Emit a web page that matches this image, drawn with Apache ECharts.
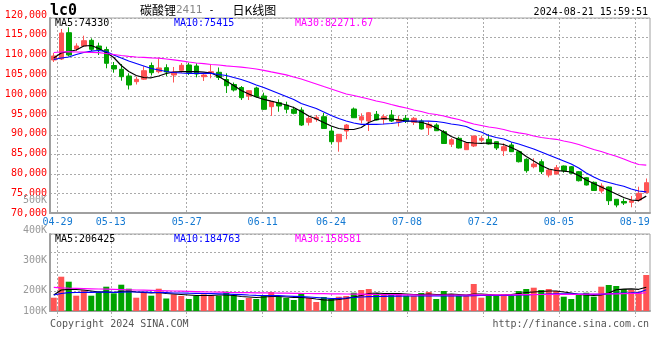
<!DOCTYPE html>
<html><head><meta charset="utf-8">
<script src="https://cdn.jsdelivr.net/npm/echarts@6/dist/echarts.min.js"></script>
<style>html,body{margin:0;padding:0;background:#fff}#c{width:660px;height:360px}</style>
</head><body><div id="c"></div>
<script>
const dates = ['04-26','04-29','04-30','05-06','05-07','05-08','05-09','05-10','05-13','05-14','05-15','05-16','05-17','05-20','05-21','05-22','05-23','05-24','05-27','05-28','05-29','05-30','05-31','06-03','06-04','06-05','06-06','06-07','06-11','06-12','06-13','06-14','06-17','06-18','06-19','06-20','06-21','06-24','06-25','06-26','06-27','06-28','07-01','07-02','07-03','07-04','07-05','07-08','07-09','07-10','07-11','07-12','07-15','07-16','07-17','07-18','07-19','07-22','07-23','07-24','07-25','07-26','07-29','07-30','07-31','08-01','08-02','08-05','08-06','08-07','08-08','08-09','08-12','08-13','08-14','08-15','08-16','08-19','08-20','08-21'];
const tickDates = ['04-29','05-13','05-27','06-11','06-24','07-08','07-22','08-05','08-19'];

const opens  = [109230,109490,116230,112050,112820,114280,112820,111920,107820,106850,105130,103670,104310,107820,106230,107260,105380,106590,107950,107690,104950,105820,106080,104230,102950,102180,100000,102050,100000,97260,98280,97690,96590,96410,93260,94020,94690,91020,88280,91020,96670,93850,93590,95310,94020,95130,93410,94280,93260,93590,91870,92560,90850,87640,89150,86230,87180,88670,88900,88280,85970,87440,85720,83770,81870,83150,79740,80000,82050,81870,80590,79050,77870,75640,76670,73510,72950,72740,73330,75200];
const closes = [110260,116150,110510,112820,114180,111970,111920,108380,106920,104950,102820,104280,106490,105970,107180,106150,106150,107870,105970,105640,105380,106230,104740,102640,101540,99560,101360,99820,96590,98540,97440,96590,95560,92560,94280,94540,91670,88280,90180,92560,94430,94690,95720,93850,94690,93590,94020,93460,94280,91540,92740,91100,87820,88790,86670,88000,89740,89150,87690,86670,87000,85720,83150,80850,82560,80590,81030,81610,80850,80180,78280,77180,75770,76920,73150,72050,72560,73150,75050,77770];
const lows   = [108720,109230,110130,111540,112560,111540,110510,107100,105970,103920,101670,102950,104100,105260,105820,105130,103460,105970,105380,104790,103850,104540,104100,100770,101150,98970,98970,99610,96410,94870,95970,95560,95310,92310,92430,93410,91540,87560,85720,88900,94360,92950,91020,93720,92740,93330,92180,93080,92560,91410,90000,91020,87690,86920,86540,86150,86920,88130,87560,86150,84610,85640,82950,80330,81460,80000,79150,79870,80330,80000,78080,77050,75640,75050,72050,71460,72050,71460,72900,75130];
const highs  = [111020,117180,117610,113510,115460,114790,113670,112640,108720,108200,105820,104950,107610,108590,109660,108130,107440,108460,108540,108380,105820,107950,107310,105820,103460,102560,101500,102380,100850,98600,99150,98540,97260,97100,94870,95130,95640,92130,90250,92820,97050,95560,95900,96150,95310,96410,94870,95130,94610,94020,93410,93000,91280,89230,89560,88130,89820,89820,90200,88330,87870,88130,85770,84030,84030,83770,81460,82310,82180,82050,80770,79230,78080,77610,76790,73590,73720,74360,76740,78850];

const ma5  = [109740,111020,111410,111790,112820,112950,112180,111150,109870,107820,106280,105260,104740,104670,105130,105770,106150,106230,106230,106230,106100,105900,105000,103850,102690,101410,100510,99740,99150,98670,98200,97690,97050,96020,94870,94100,93200,92310,91670,91410,91410,91920,93200,93970,94230,94100,93900,93590,93460,93260,92690,91790,90770,89610,88850,88130,87950,87870,87950,87820,87560,86790,85900,84490,83330,82180,81280,80900,80720,80510,79620,78460,77560,76670,75770,74870,73970,73330,73180,74330];
const ma10 = [109360,109740,110000,110640,111150,111490,111670,111410,110510,109740,108970,108330,107690,107050,106670,106280,106020,105900,105820,105820,105820,105820,105510,105260,104740,104230,103590,102820,102180,101410,100640,99870,99100,98080,97430,96790,95900,95000,94230,93590,93080,92740,92740,92740,92820,92950,93200,93590,93590,93590,93540,93460,93200,92820,92560,92180,91280,90770,89870,89360,88970,88200,87690,87050,86410,85640,84870,84100,83330,82560,81540,80260,79230,78330,77820,77310,76850,76150,75640,75415];
const ma30 = [111150,111280,111360,111280,111230,111150,111100,110900,110640,110380,110180,110000,109920,109790,109690,109490,109280,109020,108720,108460,108280,108080,107950,107740,107560,107380,107180,106920,106590,106200,105820,105430,104870,104360,103720,103080,102430,101790,101150,100510,100130,99670,99230,98720,98330,97820,97360,96920,96410,96020,95510,95260,94870,94410,93970,93380,92820,92440,92050,91790,91410,90900,90560,90260,89740,89360,89100,88900,88460,88080,87560,86920,86280,85770,85130,84540,83850,83080,82440,82271.67];

const volumes = [115700,298400,254900,133100,181000,133100,167900,211400,154000,228800,194000,115700,167900,133100,194000,108800,145300,130500,104400,130500,145300,133100,133100,167900,139200,95700,113100,104400,139200,165300,121800,113100,95700,147900,113100,78300,121800,104400,124400,130500,159200,182700,191400,154000,147900,154000,156600,133100,133100,156600,165300,104400,174000,147900,133100,133100,234900,115700,147900,139200,145300,130500,174000,191400,202700,182700,191400,174000,124400,104400,145300,159200,124400,211400,226200,217500,191400,182700,167900,313200];
const volMa5  = [139200,182700,188800,187100,182700,174000,165300,165300,161000,169700,174000,165300,161000,156600,161000,152300,147900,143600,139200,134900,134900,134900,139200,139200,134900,126200,121800,117500,121800,126200,126200,121800,117500,117500,113100,104400,97000,95000,100000,108800,121800,134900,152300,156600,152300,152300,152300,147900,143600,143600,147900,143600,143600,147900,143600,139200,147900,147900,143600,139200,139200,143600,152300,161000,165300,169700,174000,174000,165300,156600,143600,139200,134900,139200,156600,185000,190000,192000,189000,206425];
const volMa10 = [139200,152300,159200,161000,162700,162700,163600,163600,162700,163600,165300,165300,163600,161800,161000,159200,156600,156600,154900,154000,152300,151400,149600,147900,145300,142700,139200,136600,134900,134000,133100,130500,127900,125300,121800,117500,113100,108800,110500,113100,117500,121800,124400,126200,127900,128800,129600,130500,130500,132200,132200,132200,132200,132200,132200,132200,134000,134900,134900,134900,134900,136600,139200,140900,143600,145300,147900,149600,149600,149600,147900,146200,145300,146200,149600,153100,156600,158300,161000,184763];
const volMa30 = [206200,201800,198400,196600,194900,193100,191400,189700,187900,186200,184400,182700,181000,179200,177500,175700,174000,172300,170500,168800,167000,165300,163600,161800,161000,160100,159200,158300,157500,156600,155700,154900,154000,153100,152300,151400,150500,149600,148800,147900,147000,146200,145300,144400,143600,142700,141800,140900,140100,139200,139200,139200,139200,139200,139200,139200,140100,140100,140100,140900,140900,140900,141800,141800,142700,143600,143600,144400,144400,145300,145300,146200,147000,147900,148800,149600,151400,152300,153100,158581];

const volTickLabels = ['100K','200K','300K','400K','500K'];
const priceLegend = ['MA5:74330','MA10:75415','MA30:82271.67'];
const volLegend = ['MA5:206425','MA10:184763','MA30:158581'];
const headerText = ['lc0','碳酸锂','2411','日K线图','2024-08-21 15:59:51'];
const footerText = ['Copyright 2024 SINA.COM','http://finance.sina.com.cn'];

const MONO = 'DejaVu Sans Mono';
const UP = '#FF5454', DOWN = '#00A300';
const dotted = {color:'#aaaaaa', type:[2,2], width:1};
const isTick = (i) => tickDates.indexOf(dates[i]) >= 0;
const small = (c) => ({fontFamily:MONO, fontSize:10, lineHeight:12, color:c, fontWeight:'normal'});

const chart = echarts.init(document.getElementById('c'));
const option = {
  animation:false,
  backgroundColor:'#ffffff',
  title:[
    {text:headerText[0], left:50, top:3, padding:0, textStyle:{fontFamily:MONO, fontSize:15, fontWeight:'bold', color:'#000', lineHeight:16}},
    {text:'{a|'+headerText[1]+'}{b|'+headerText[2]+'}{c| -   }{a|'+headerText[3]+'}', left:140, top:3, padding:0,
      textStyle:{fontWeight:'normal', rich:{a:{fontFamily:'Noto Sans CJK SC', fontSize:12, fontWeight:'normal', color:'#000', lineHeight:14},
                       b:{fontFamily:MONO, fontSize:11, fontWeight:'normal', color:'#888', lineHeight:14},
                       c:{fontFamily:MONO, fontSize:10, fontWeight:'normal', color:'#000', lineHeight:14}}}},
    {text:headerText[4], right:12, top:6, padding:0, textStyle:small('#000')},
    {text:priceLegend[0], left:55, top:17, padding:0, textStyle:small('#000')},
    {text:priceLegend[1], left:174, top:17, padding:0, textStyle:small('#0000FF')},
    {text:priceLegend[2], left:295, top:17, padding:0, textStyle:small('#FF00FF')},
    {text:volLegend[0], left:55, top:233, padding:0, textStyle:small('#000')},
    {text:volLegend[1], left:174, top:233, padding:0, textStyle:small('#0000FF')},
    {text:volLegend[2], left:295, top:233, padding:0, textStyle:small('#FF00FF')},
    {text:footerText[0], left:50, top:318, padding:0, textStyle:small('#555')},
    {text:footerText[1], right:11, top:318, padding:0, textStyle:small('#555')}
  ],
  grid:[
    {left:50, width:600, top:18, height:195, show:true, borderColor:'#a0a0a0', borderWidth:1, backgroundColor:'transparent'},
    {left:50, width:600, top:234, height:77, show:true, borderColor:'#a0a0a0', borderWidth:1, backgroundColor:'transparent'},
    {left:50, width:600, top:15, height:198},
    {left:50, width:600, top:200, height:121}
  ],
  xAxis:[
    {gridIndex:0, type:'category', data:dates, boundaryGap:true,
      axisLine:{show:true, lineStyle:{color:'#a0a0a0', width:2}}, axisTick:{show:false}, axisLabel:{show:false}, splitLine:{show:false}},
    {gridIndex:0, type:'category', data:dates, boundaryGap:false, position:'bottom',
      axisLine:{show:false}, axisTick:{show:false},
      axisLabel:{show:true, interval:(i)=>isTick(i), color:'#1479d2', fontFamily:MONO, fontSize:10, margin:4},
      splitLine:{show:true, interval:(i)=>isTick(i), lineStyle:dotted}},
    {gridIndex:1, type:'category', data:dates, boundaryGap:true,
      axisLine:{show:true, lineStyle:{color:'#a0a0a0', width:2}}, axisTick:{show:false}, axisLabel:{show:false}, splitLine:{show:false}},
    {gridIndex:1, type:'category', data:dates, boundaryGap:false, position:'bottom',
      axisLine:{show:false},
      axisTick:{show:true, interval:(i)=>isTick(i), length:9, lineStyle:dotted},
      axisLabel:{show:false},
      splitLine:{show:true, interval:(i)=>isTick(i), lineStyle:dotted}},
    {gridIndex:2, type:'value', show:false},
    {gridIndex:3, type:'value', show:false}
  ],
  yAxis:[
    {gridIndex:0, type:'value', min:70000, max:120000, interval:5000,
      axisLine:{show:true, lineStyle:{color:'#a0a0a0', width:2}}, axisTick:{show:false}, axisLabel:{show:false},
      splitLine:{show:true, lineStyle:dotted}},
    {gridIndex:1, type:'value', min:0, max:669900,
      axisLine:{show:true, lineStyle:{color:'#a0a0a0', width:2}}, axisTick:{show:false}, axisLabel:{show:false}, splitLine:{show:false}},
    {gridIndex:1, type:'value', min:-26100, max:643800, interval:169650, position:'right',
      axisLine:{show:false}, axisTick:{show:false}, axisLabel:{show:false}, splitLine:{show:true, lineStyle:dotted}},
    {gridIndex:2, type:'value', min:70000, max:120000, interval:5000,
      axisLine:{show:false}, axisTick:{show:false}, splitLine:{show:false},
      axisLabel:{color:'#FF0000', fontFamily:MONO, fontSize:10, margin:3}},
    {gridIndex:3, type:'value', min:100000, max:500000, interval:100000,
      axisLine:{show:false}, axisTick:{show:false}, splitLine:{show:false},
      axisLabel:{color:'#999', fontFamily:MONO, fontSize:10, margin:3,
        formatter:(v)=>{const k=Math.round(v/100000)-1; return k===0 ? '{up|'+volTickLabels[k]+'}' : volTickLabels[k];},
        rich:{up:{color:'#999', fontFamily:MONO, fontSize:10, padding:[0,0,20,0]}}}}
  ],
  series:[
    {type:'candlestick', xAxisIndex:0, yAxisIndex:0, barWidth:5,
      data:dates.map((d,i)=>[opens[i], closes[i], lows[i], highs[i]]),
      itemStyle:{color:UP, color0:DOWN, borderColor:UP, borderColor0:DOWN, borderWidth:1}, z:2},
    {type:'line', xAxisIndex:0, yAxisIndex:0, data:ma5, showSymbol:false, lineStyle:{color:'#000', width:1.2}, z:5},
    {type:'line', xAxisIndex:0, yAxisIndex:0, data:ma10, showSymbol:false, lineStyle:{color:'#0000FF', width:1.2}, z:5},
    {type:'line', xAxisIndex:0, yAxisIndex:0, data:ma30, showSymbol:false, lineStyle:{color:'#FF00FF', width:1.2}, z:5},
    {type:'bar', xAxisIndex:2, yAxisIndex:1, barWidth:6,
      data:volumes.map((v,i)=>({value:v, itemStyle:{color: closes[i]>=opens[i] ? UP : DOWN}})), z:2},
    {type:'line', xAxisIndex:2, yAxisIndex:1, data:volMa5, showSymbol:false, lineStyle:{color:'#000', width:1.2}, z:5},
    {type:'line', xAxisIndex:2, yAxisIndex:1, data:volMa10, showSymbol:false, lineStyle:{color:'#0000FF', width:1.2}, z:5},
    {type:'line', xAxisIndex:2, yAxisIndex:1, data:volMa30, showSymbol:false, lineStyle:{color:'#FF00FF', width:1.2}, z:5}
  ]
};
chart.setOption(option);
</script>
</body></html>
